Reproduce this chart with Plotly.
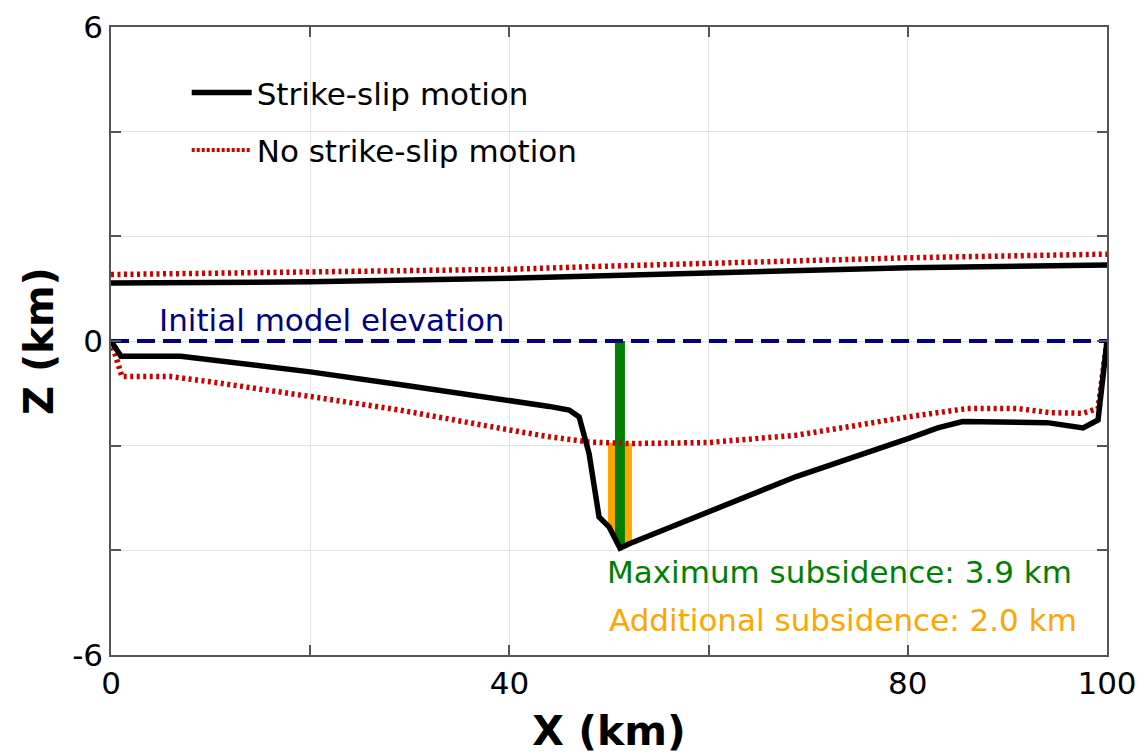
import numpy as np
import plotly.graph_objects as go

# ---------------- data ----------------
x_ss_top = [0, 20, 40, 48, 74, 80, 100]
z_ss_top = [1.11, 1.13, 1.20, 1.24, 1.37, 1.40, 1.45]

x_nss_top = [0, 20, 40, 48, 74, 80, 100]
z_nss_top = [1.27, 1.31, 1.37, 1.42, 1.55, 1.59, 1.66]

x_ss_bot = [0, 1, 7, 20, 30, 40, 44, 46, 47, 48, 49, 50, 51.1, 52.1, 60.1,
            68.8, 80.1, 83, 85.5, 91, 94, 97.6, 99.1, 100]
z_ss_bot = [0, -0.29, -0.29, -0.59, -0.86, -1.13, -1.25, -1.32, -1.45, -2.15,
            -3.36, -3.55, -3.96, -3.87, -3.26, -2.59, -1.86, -1.66, -1.54,
            -1.54, -1.56, -1.66, -1.51, 0]

x_nss_bot = [0, 1.1, 6, 10, 20, 29, 40, 44, 48, 52, 60, 68.8, 74, 80, 86, 91,
             94.3, 97.6, 99.1, 100]
z_nss_bot = [0, -0.68, -0.68, -0.78, -1.06, -1.32, -1.70, -1.83, -1.93, -1.96,
             -1.94, -1.80, -1.64, -1.45, -1.29, -1.29, -1.37, -1.38, -1.29, 0]

x_initial = [0, 100]
z_initial = [0, 0]

x_max_sub = 51.1
max_subsidence = 3.9
additional_subsidence = 2.0
green_span = [50.6, 51.6]      # x-extent of the maximum-subsidence band
orange_span = [49.9, 52.3]     # x-extent of the additional-subsidence band

x_ticks = [0, 20, 40, 60, 80, 100]
x_ticktext = ["0", "", "40", "", "80", "100"]
y_ticks = [-6, -4, -2, 0, 2, 4, 6]
y_ticktext = ["-6", "", "", "0", "", "", "6"]

FONT = "DejaVu Sans, Verdana, sans-serif"
GREEN = "#007f00"
ORANGE = "#ffa500"
RED = "#cc0000"
NAVY = "#000080"


def band(xs, top_x, top_z, bot_x, bot_z, n=12):
    xx = np.linspace(xs[0], xs[1], n)
    top = np.interp(xx, top_x, top_z)
    bot = np.interp(xx, bot_x, bot_z)
    return list(xx) + list(xx[::-1]), list(top) + list(bot[::-1])


fig = go.Figure()

# orange band: between the no-strike-slip floor and the strike-slip floor
ox, oz = band(orange_span, x_nss_bot, z_nss_bot, x_ss_bot, z_ss_bot)
fig.add_trace(go.Scatter(x=ox, y=oz, mode="lines", fill="toself", fillcolor=ORANGE,
                         line=dict(width=0, color=ORANGE), showlegend=False,
                         hoverinfo="skip"))
# green band: from initial elevation down to the strike-slip floor
gx, gz = band(green_span, x_initial, z_initial, x_ss_bot, z_ss_bot)
fig.add_trace(go.Scatter(x=gx, y=gz, mode="lines", fill="toself", fillcolor=GREEN,
                         line=dict(width=0, color=GREEN), showlegend=False,
                         hoverinfo="skip"))

fig.add_trace(go.Scatter(x=x_initial, y=z_initial, mode="lines",
                         line=dict(color=NAVY, width=4, dash="18px,8px"),
                         showlegend=False, hoverinfo="skip"))

fig.add_trace(go.Scatter(x=x_nss_top, y=z_nss_top, mode="lines",
                         line=dict(color=RED, width=5.5, dash="3px,3.5px"),
                         showlegend=False))
fig.add_trace(go.Scatter(x=x_nss_bot, y=z_nss_bot, mode="lines",
                         line=dict(color=RED, width=5.5, dash="3px,3.5px"),
                         showlegend=False))
fig.add_trace(go.Scatter(x=x_ss_top, y=z_ss_top, mode="lines",
                         line=dict(color="black", width=5.5),
                         name="Strike-slip motion", legendgroup="a",
                         showlegend=True))
fig.add_trace(go.Scatter(x=x_ss_bot, y=z_ss_bot, mode="lines",
                         line=dict(color="black", width=5.5),
                         showlegend=False))
fig.add_trace(go.Scatter(x=[None], y=[None], mode="lines",
                         line=dict(color=RED, width=4, dash="3px,2px"),
                         name="No strike-slip motion", legendgroup="b",
                         showlegend=True))

fig.add_annotation(x=4.6, y=0.40, text="Initial model elevation", showarrow=False,
                   xanchor="left", yanchor="middle",
                   font=dict(family=FONT, size=31, color=NAVY))
fig.add_annotation(x=49.6, y=-4.42, text=f"Maximum subsidence: {max_subsidence:.1f} km",
                   showarrow=False, xanchor="left", yanchor="middle",
                   font=dict(family=FONT, size=31, color=GREEN))
fig.add_annotation(x=49.8, y=-5.33, text=f"Additional subsidence: {additional_subsidence:.1f} km",
                   showarrow=False, xanchor="left", yanchor="middle",
                   font=dict(family=FONT, size=31, color=ORANGE))

axis_common = dict(showline=True, linecolor="#555555", linewidth=1.5, mirror="ticks",
                   ticks="inside", ticklen=10, tickcolor="#555555", tickwidth=1.5,
                   showgrid=True, gridcolor="#e3e3e3", gridwidth=1.2, zeroline=False,
                   automargin=False,
                   tickfont=dict(family=FONT, size=31, color="black"))

fig.update_xaxes(range=[0, 100], tickmode="array", tickvals=x_ticks, ticktext=x_ticktext,
                 title=dict(text="<b>X (km)</b>", font=dict(family=FONT, size=41, color="black"),
                            standoff=24),
                 **axis_common)
fig.update_yaxes(range=[-6, 6], tickmode="array", tickvals=y_ticks, ticktext=y_ticktext,
                 title=dict(text="<b>Z (km)</b>", font=dict(family=FONT, size=40, color="black"),
                            standoff=6),
                 **axis_common)

fig.update_layout(
    width=1144, height=755,
    margin=dict(l=111, r=37, t=27, b=100),
    plot_bgcolor="white", paper_bgcolor="white",
    showlegend=True,
    legend=dict(x=0.076, y=0.938, xanchor="left", yanchor="top",
                bgcolor="rgba(0,0,0,0)", borderwidth=0,
                font=dict(family=FONT, size=31, color="black"),
                tracegroupgap=14, itemwidth=60),
)

fig.write_html("out.html")
